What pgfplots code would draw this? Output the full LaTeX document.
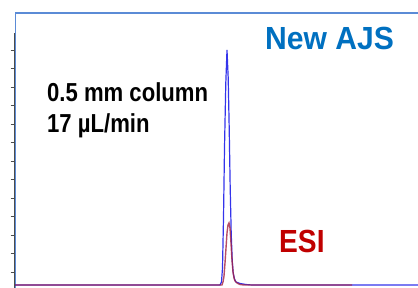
\documentclass[border=0pt]{standalone}
\usepackage{pgfplots}
\pgfplotsset{compat=1.18}
\usepackage{fontspec}
\setmainfont{Liberation Sans}
\newfontfamily\condbold[FakeStretch=0.88]{Liberation Sans Bold}
\newfontfamily\condboldw[FakeStretch=0.94]{Liberation Sans Bold}
\newfontfamily\condboldn[FakeStretch=0.85]{Liberation Sans Bold}
\definecolor{ajsblue}{HTML}{0070C0}
\definecolor{esired}{HTML}{C00000}
\definecolor{frameblue}{HTML}{5B8BD6}
\definecolor{traceblue}{HTML}{1010E8}
\definecolor{tracered}{HTML}{A52040}
\begin{document}
\begin{tikzpicture}
\begin{axis}[
  scale only axis, width=418bp, height=288bp,
  xmin=0, xmax=418, ymin=0, ymax=288,
  hide axis, clip=false,
]
\path[use as bounding box] (axis cs:0,0) rectangle (axis cs:418,288);
% frame
\draw[frameblue, line width=1.2bp] (axis cs:15.5,0) -- (axis cs:15.5,275) -- (axis cs:418,275);
% gray y axis
\draw[black!70, line width=1bp] (axis cs:14,0) -- (axis cs:14,255);
\pgfplotsinvokeforeach{238,219.5,201,182.5,164,145.5,127,108.5,90,71.5,53,34.5,16}{
  \draw[black!70, line width=0.8bp] (axis cs:10.5,#1) -- (axis cs:14,#1);
}
\addplot[traceblue, line width=1.2bp, opacity=0.85] coordinates {
(15,3) (220,3) (221.5,6) (222.5,20) (223.5,70) (224.5,140) (225.8,205) (227,238) (228.2,210) (229.2,160) (230.2,100) (231.2,55) (232.2,28) (233.2,15) (234.5,9) (236,6) (240,4.5) (246,3.5) (252,3) (418,3)};
\addplot[tracered, line width=1.4bp, opacity=0.8] coordinates {
(15,3) (222,3) (223,6) (224,12) (225,25) (226,40) (227,55) (228,63) (229,65) (230,60) (231,45) (232,28) (233,16) (234,10) (235,7) (237,5) (240,3.5) (244,3) (352,3)};
\node[anchor=base west, inner sep=0pt, text=ajsblue] at (axis cs:265,238) {\condboldw\fontsize{32bp}{36bp}\selectfont New AJS};
\node[anchor=base west, inner sep=0pt, text=esired] at (axis cs:279,35) {\condbold\fontsize{32bp}{36bp}\selectfont ESI};
\node[anchor=base west, inner sep=0pt, text=black] at (axis cs:47,186) {\condboldn\fontsize{26bp}{30bp}\selectfont 0.5 mm column};
\node[anchor=base west, inner sep=0pt, text=black] at (axis cs:47,155) {\condboldn\fontsize{26bp}{30bp}\selectfont 17 \char"00B5 L/min};
\end{axis}
\end{tikzpicture}
\end{document}
